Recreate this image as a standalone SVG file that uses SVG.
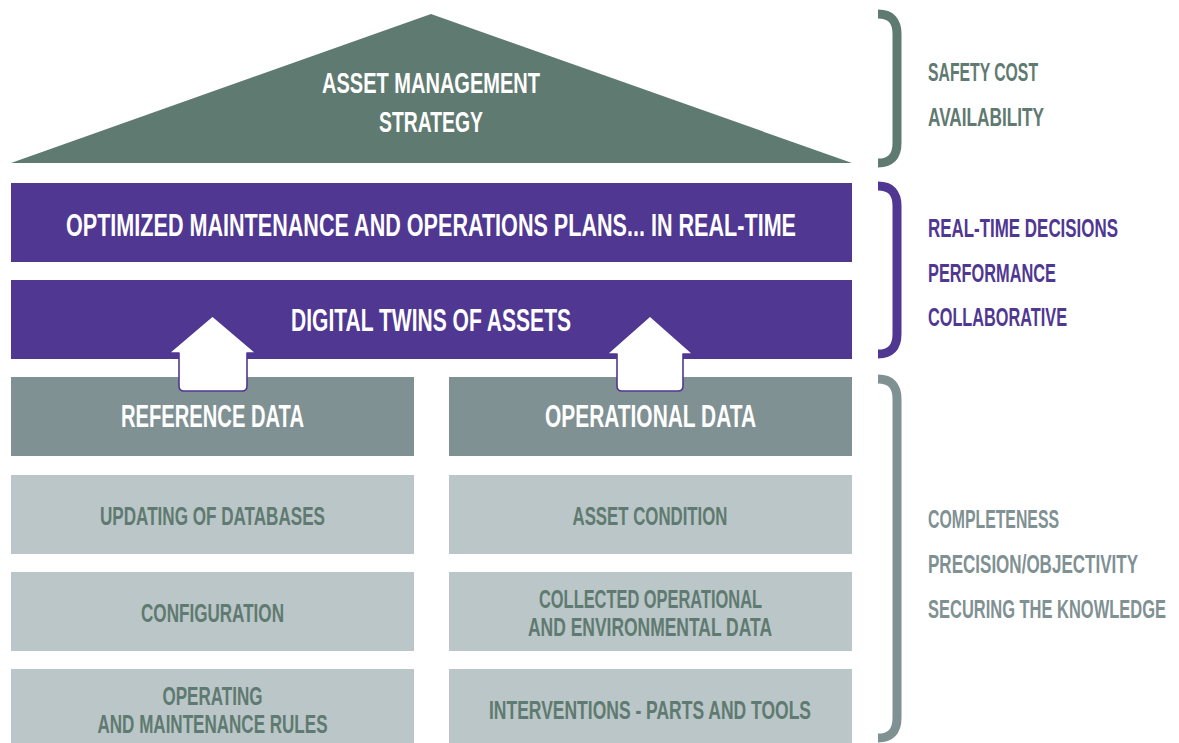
<svg xmlns="http://www.w3.org/2000/svg" width="1179" height="743" viewBox="0 0 1179 743">
<style>
.t{font-family:"Liberation Sans Narrow","Liberation Sans","DejaVu Sans Condensed",Arial,sans-serif;font-weight:bold;text-anchor:middle}
.w{fill:#ffffff}
.d{fill:#5f7a70}
.s{font-family:"Liberation Sans Narrow","Liberation Sans","DejaVu Sans Condensed",Arial,sans-serif;font-weight:bold;font-size:25px}
.br{fill:none;stroke-width:9;stroke-linecap:butt}
.arrow{fill:#ffffff;stroke:#4f3792;stroke-width:1.6;stroke-linejoin:round}
</style>
<rect width="1179" height="743" fill="#ffffff"/>

<g id="strategy">
<polygon points="431,14 852,163 11,163" fill="#5f7a70"/>
<text class="t w" x="431" y="93" font-size="29" textLength="218" lengthAdjust="spacingAndGlyphs">ASSET MANAGEMENT</text>
<text class="t w" x="431" y="132" font-size="29" textLength="104" lengthAdjust="spacingAndGlyphs">STRATEGY</text>
</g>

<g id="plans">
<rect x="11" y="183" width="841" height="79" fill="#4f3792"/>
<text class="t w" x="431" y="236" font-size="32" textLength="730" lengthAdjust="spacingAndGlyphs">OPTIMIZED MAINTENANCE AND OPERATIONS PLANS... IN REAL-TIME</text>
</g>

<g id="twins">
<rect x="11" y="280" width="841" height="79" fill="#4f3792"/>
<text class="t w" x="431" y="331" font-size="32" textLength="280" lengthAdjust="spacingAndGlyphs">DIGITAL TWINS OF ASSETS</text>
</g>

<g id="reference-data">
<rect x="11" y="377" width="403" height="79" fill="#7f9193"/>
<text class="t w" x="212.5" y="427" font-size="31" textLength="183" lengthAdjust="spacingAndGlyphs">REFERENCE DATA</text>
</g>

<g id="operational-data">
<rect x="449" y="377" width="403" height="79" fill="#7f9193"/>
<text class="t w" x="650.5" y="427" font-size="31" textLength="211" lengthAdjust="spacingAndGlyphs">OPERATIONAL DATA</text>
</g>

<g id="updating">
<rect x="11" y="475" width="403" height="79" fill="#bac6c7"/>
<text class="t d" x="212.5" y="525" font-size="25" textLength="225" lengthAdjust="spacingAndGlyphs">UPDATING OF DATABASES</text>
</g>

<g id="configuration">
<rect x="11" y="572" width="403" height="79" fill="#bac6c7"/>
<text class="t d" x="212.5" y="622" font-size="25" textLength="143" lengthAdjust="spacingAndGlyphs">CONFIGURATION</text>
</g>

<g id="rules">
<rect x="11" y="669" width="403" height="79" fill="#bac6c7"/>
<text class="t d" x="212.5" y="705" font-size="25" textLength="100" lengthAdjust="spacingAndGlyphs">OPERATING</text>
<text class="t d" x="212.5" y="733" font-size="25" textLength="230" lengthAdjust="spacingAndGlyphs">AND MAINTENANCE RULES</text>
</g>

<g id="asset-condition">
<rect x="449" y="475" width="403" height="79" fill="#bac6c7"/>
<text class="t d" x="650" y="525" font-size="25" textLength="155" lengthAdjust="spacingAndGlyphs">ASSET CONDITION</text>
</g>

<g id="collected">
<rect x="449" y="572" width="403" height="79" fill="#bac6c7"/>
<text class="t d" x="650.5" y="608" font-size="25" textLength="223" lengthAdjust="spacingAndGlyphs">COLLECTED OPERATIONAL</text>
<text class="t d" x="650" y="636" font-size="25" textLength="244" lengthAdjust="spacingAndGlyphs">AND ENVIRONMENTAL DATA</text>
</g>

<g id="interventions">
<rect x="449" y="669" width="403" height="79" fill="#bac6c7"/>
<text class="t d" x="650" y="719" font-size="25" textLength="322" lengthAdjust="spacingAndGlyphs">INTERVENTIONS - PARTS AND TOOLS</text>
</g>

<g id="connectors">
<path class="arrow" d="M212.5,316 L256,353 L247,353 L247,386 Q247,391 242,391 L184,391 Q179,391 179,386 L179,353 L169,353 Z"/>
<path class="arrow" d="M650,316 L693,354 L683,354 L683,386 Q683,391 678,391 L622,391 Q617,391 617,386 L617,354 L607,354 Z"/>
</g>

<g id="bracket-strategy">
<path class="br" stroke="#5f7a70" d="M878,14 Q897,14 897,34 L897,143 Q897,163 878,163"/>
<text class="s" x="928" y="81" fill="#5f7a70" textLength="110" lengthAdjust="spacingAndGlyphs">SAFETY COST</text>
<text class="s" x="928" y="126" fill="#5f7a70" textLength="116" lengthAdjust="spacingAndGlyphs">AVAILABILITY</text>
</g>

<g id="bracket-plans">
<path class="br" stroke="#4f3792" d="M878,186 Q897,186 897,206 L897,334 Q897,354 878,354"/>
<text class="s" x="928" y="237" fill="#4f3792" textLength="190" lengthAdjust="spacingAndGlyphs">REAL-TIME DECISIONS</text>
<text class="s" x="928" y="282" fill="#4f3792" textLength="128" lengthAdjust="spacingAndGlyphs">PERFORMANCE</text>
<text class="s" x="928" y="326" fill="#4f3792" textLength="139" lengthAdjust="spacingAndGlyphs">COLLABORATIVE</text>
</g>

<g id="bracket-data">
<path class="br" stroke="#7f9193" d="M878,379 Q897,379 897,399 L897,718 Q897,738 878,738"/>
<text class="s" x="928" y="528" fill="#7f9193" textLength="131" lengthAdjust="spacingAndGlyphs">COMPLETENESS</text>
<text class="s" x="928" y="573" fill="#7f9193" textLength="210" lengthAdjust="spacingAndGlyphs">PRECISION/OBJECTIVITY</text>
<text class="s" x="928" y="618" fill="#7f9193" textLength="238" lengthAdjust="spacingAndGlyphs">SECURING THE KNOWLEDGE</text>
</g>
</svg>
